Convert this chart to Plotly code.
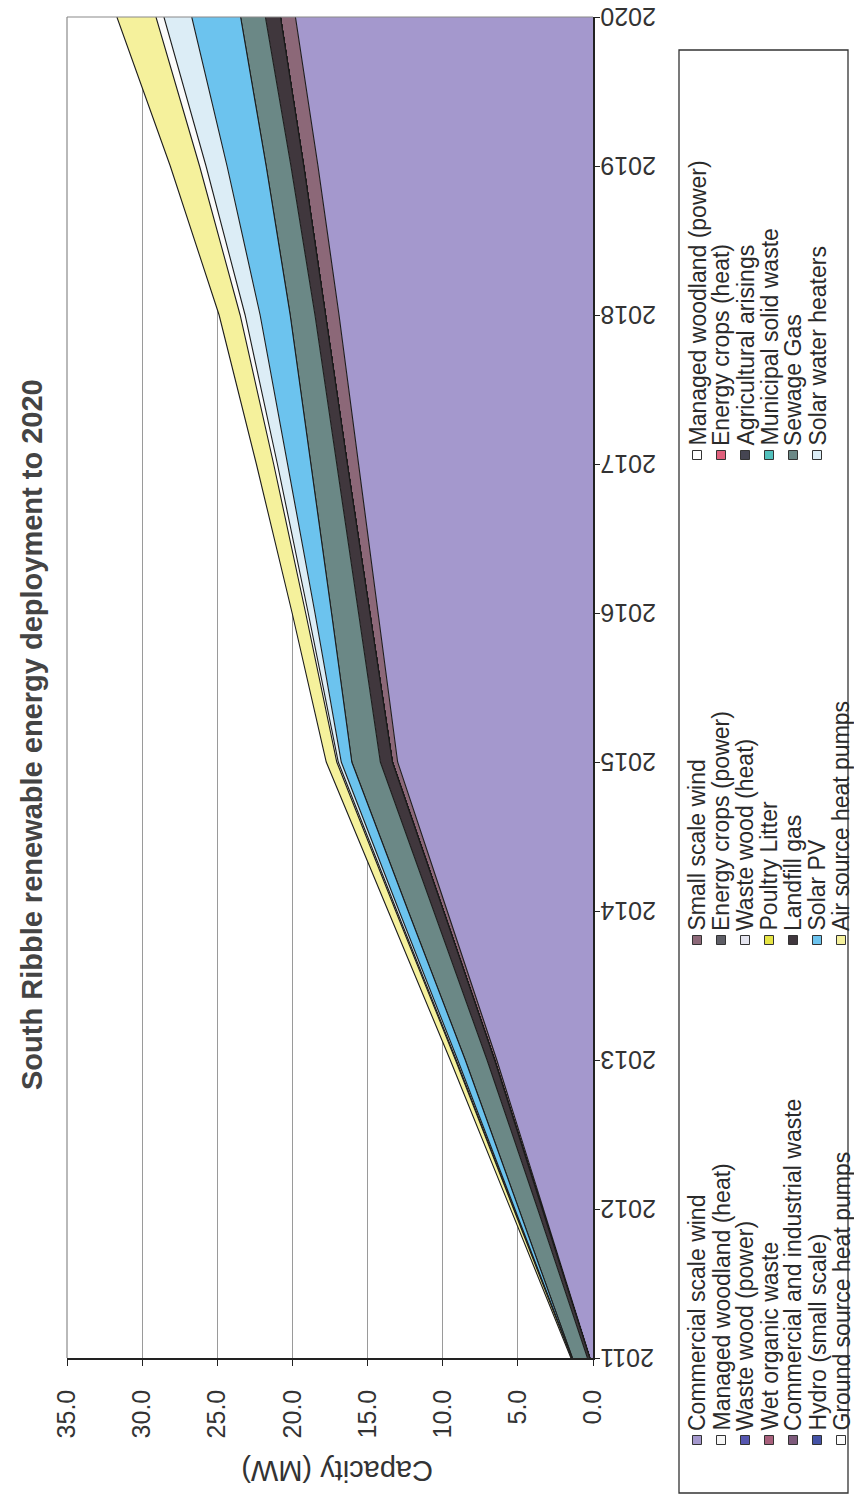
import plotly.graph_objects as go

# Years on the category axis
years = [2011, 2012, 2013, 2014, 2015, 2016, 2017, 2018, 2019, 2020]

# Installed capacity by technology (MW)
commercial_scale_wind = [0.2, 3.3, 6.4, 9.7, 13.0, 14.3, 15.6, 16.9, 18.3, 19.8]
small_scale_wind = [0.02, 0.08, 0.15, 0.25, 0.35, 0.55, 0.75, 0.9, 0.95, 1.0]
managed_woodland_power = [0, 0, 0, 0, 0, 0, 0, 0, 0, 0]
managed_woodland_heat = [0, 0, 0, 0, 0, 0, 0, 0, 0, 0]
energy_crops_power = [0, 0, 0, 0, 0, 0, 0, 0, 0, 0]
energy_crops_heat = [0, 0, 0, 0, 0, 0, 0, 0, 0, 0]
waste_wood_power = [0, 0, 0, 0, 0, 0, 0, 0, 0, 0]
waste_wood_heat = [0, 0, 0, 0, 0, 0, 0, 0, 0, 0]
agricultural_arisings = [0, 0, 0, 0, 0, 0, 0, 0, 0, 0]
wet_organic_waste = [0, 0, 0, 0, 0, 0, 0, 0, 0, 0]
poultry_litter = [0, 0, 0, 0, 0, 0, 0, 0, 0, 0]
municipal_solid_waste = [0, 0, 0, 0, 0, 0, 0, 0, 0, 0]
commercial_industrial_waste = [0, 0, 0, 0, 0, 0, 0, 0, 0, 0]
landfill_gas = [0.15, 0.3, 0.5, 0.65, 0.8, 0.75, 0.7, 0.7, 0.85, 1.0]
sewage_gas = [1.0, 1.25, 1.45, 1.7, 1.9, 1.8, 1.7, 1.65, 1.65, 1.65]
hydro_small_scale = [0, 0, 0, 0, 0, 0, 0, 0, 0, 0]
solar_pv = [0.03, 0.25, 0.5, 0.6, 0.7, 1.1, 1.55, 2.0, 2.6, 3.25]
solar_water_heaters = [0.01, 0.05, 0.1, 0.15, 0.2, 0.45, 0.7, 1.0, 1.4, 1.85]
ground_source_heat_pumps = [0.01, 0.03, 0.05, 0.08, 0.1, 0.17, 0.25, 0.33, 0.43, 0.53]
air_source_heat_pumps = [0.05, 0.2, 0.35, 0.5, 0.7, 0.9, 1.15, 1.4, 1.95, 2.6]

series_names = [
    "Commercial scale wind", "Small scale wind", "Managed woodland (power)",
    "Managed woodland (heat)", "Energy crops (power)", "Energy crops (heat)",
    "Waste wood (power)", "Waste wood (heat)", "Agricultural arisings",
    "Wet organic waste", "Poultry Litter", "Municipal solid waste",
    "Commercial and industrial waste", "Landfill gas", "Sewage Gas",
    "Hydro (small scale)", "Solar PV", "Solar water heaters",
    "Ground source heat pumps", "Air source heat pumps",
]
series_values = [
    commercial_scale_wind, small_scale_wind, managed_woodland_power,
    managed_woodland_heat, energy_crops_power, energy_crops_heat,
    waste_wood_power, waste_wood_heat, agricultural_arisings,
    wet_organic_waste, poultry_litter, municipal_solid_waste,
    commercial_industrial_waste, landfill_gas, sewage_gas,
    hydro_small_scale, solar_pv, solar_water_heaters,
    ground_source_heat_pumps, air_source_heat_pumps,
]
series_colors = [
    "#a498cd", "#8c6878", "#ffffff",
    "#f6f6f6", "#5e5e66", "#e0607c",
    "#5656b0", "#e4e4ee", "#454552",
    "#a8607c", "#e6e444", "#52c0bc",
    "#7e5a7c", "#40373d", "#6b8886",
    "#4452a6", "#6cc3ee", "#dcedf6",
    "#fbfbfb", "#f5f19c",
]

# Plot-area geometry in pixels
W, H = 854, 1501
PL, PR, PT, PB = 67, 593, 17, 1358


def fx(px):
    return (px - PL) / (PR - PL)


def fy(py):
    return (PB - py) / (PB - PT)


fig = go.Figure()
for name, vals, col in zip(series_names, series_values, series_colors):
    fig.add_trace(go.Scatter(
        x=vals, y=years, name=name, stackgroup="cap", orientation="h",
        mode="lines", line=dict(color="#1c1c1c", width=1.1),
        fillcolor=col, showlegend=False, hoverinfo="x+y+name",
    ))

text_col = "#333333"
font_family = "Liberation Sans, Arial, sans-serif"

fig.update_layout(
    width=W, height=H,
    margin=dict(l=PL, r=W - PR, t=PT, b=H - PB),
    paper_bgcolor="white", plot_bgcolor="white",
    font=dict(family=font_family, color=text_col),
    showlegend=False,
    xaxis=dict(
        range=[35, 0], tickmode="array",
        tickvals=[0, 5, 10, 15, 20, 25, 30, 35],
        ticktext=["0.0", "5.0", "10.0", "15.0", "20.0", "25.0", "30.0", "35.0"],
        tickangle=-90, tickfont=dict(size=25, color=text_col),
        ticks="outside", ticklen=6, tickcolor="#222", ticklabelstandoff=14,
        showgrid=True, gridcolor="#9a9a9a", gridwidth=1,
        showline=True, linecolor="#222", linewidth=1.5, zeroline=False,
    ),
    yaxis=dict(
        range=[2011, 2020], side="right", tickmode="array", tickvals=years,
        showticklabels=False,
        ticks="outside", ticklen=5, tickcolor="#222",
        showgrid=False, showline=True, linecolor="#222", linewidth=1.5,
        zeroline=False,
    ),
)

shapes = []
# Plot-area top and left borders
shapes.append(dict(type="line", xref="paper", yref="paper", x0=0, x1=1, y0=1, y1=1,
                   line=dict(color="#8a8a8a", width=1.2)))
shapes.append(dict(type="line", xref="paper", yref="paper", x0=0, x1=0, y0=0, y1=1,
                   line=dict(color="#8a8a8a", width=1.2)))

annotations = []
# Year labels, turned upside down beside the category axis
for yr in years:
    annotations.append(dict(
        text=str(yr), xref="paper", yref="y", x=fx(598), y=yr,
        showarrow=False, textangle=180, xanchor="left", yanchor="middle",
        font=dict(size=25, color=text_col, family=font_family),
    ))
# Chart title
annotations.append(dict(
    text="<b>South Ribble renewable energy deployment to 2020</b>",
    xref="paper", yref="paper", x=fx(32), y=fy(735), showarrow=False,
    textangle=-90, xanchor="center", yanchor="middle",
    font=dict(size=29, color="#444444", family=font_family),
))
# Value-axis title
annotations.append(dict(
    text="Capacity (MW)", xref="paper", yref="paper", x=fx(337), y=fy(1471),
    showarrow=False, textangle=180, xanchor="center", yanchor="middle",
    font=dict(size=29, color="#333333", family=font_family),
))

# Legend box with entries laid out in three bands of rows
shapes.append(dict(type="rect", xref="paper", yref="paper",
                   x0=fx(679), x1=fx(848), y0=fy(1493), y1=fy(50),
                   line=dict(color="#333333", width=1.3), fillcolor="rgba(0,0,0,0)"))
band_icon_y = [1440, 940, 455]
col_x0, col_step = 697, 24
icon = 4.5
for i, (name, col) in enumerate(zip(series_names, series_colors)):
    cx = col_x0 + col_step * (i // 3)
    cy = band_icon_y[i % 3]
    shapes.append(dict(type="rect", xref="paper", yref="paper",
                       x0=fx(cx - icon), x1=fx(cx + icon),
                       y0=fy(cy + icon), y1=fy(cy - icon),
                       line=dict(color="#333333", width=1), fillcolor=col))
    annotations.append(dict(
        text=name, xref="paper", yref="paper", x=fx(cx), y=fy(cy - 7),
        showarrow=False, textangle=-90, xanchor="center", yanchor="bottom",
        font=dict(size=23, color="#2a2a2a", family=font_family),
    ))

fig.update_layout(shapes=shapes, annotations=annotations)
fig.write_html("out.html")
